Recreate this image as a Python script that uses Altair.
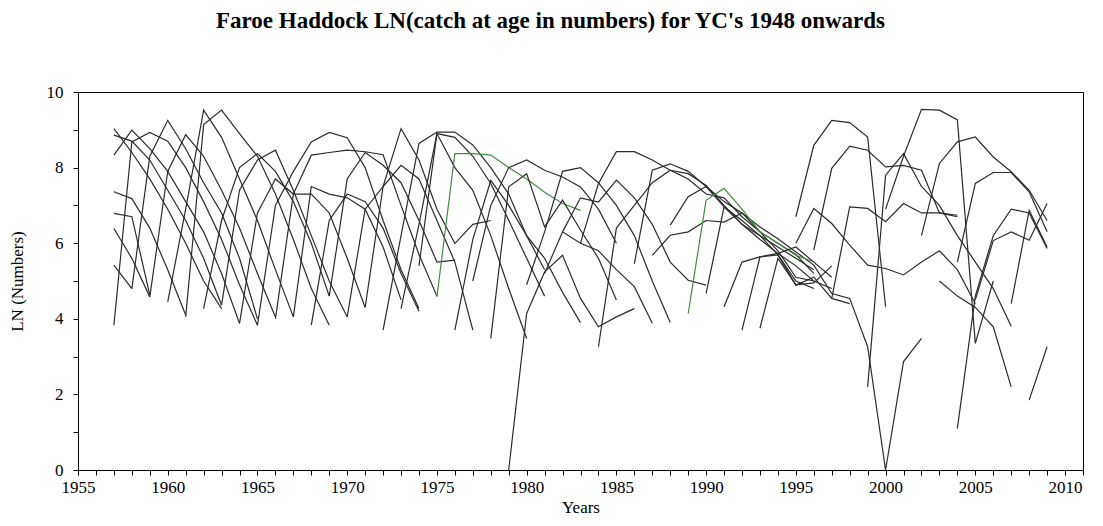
import altair as alt
import pandas as pd

# Each series: first year and LN(catch) values for consecutive years
start_years = [
    1957, 1957, 1957, 1957, 1957, 1957, 1957, 1957,
    1958, 1959, 1960, 1961, 1962, 1963, 1964, 1965, 1966, 1967, 1968, 1969,
    1970, 1971, 1972, 1973, 1974, 1975, 1976, 1977, 1978, 1979, 1980, 1981,
    1982, 1983, 1984, 1986, 1987, 1988, 1989, 1990, 1991, 1992, 1993,
    1995, 1996, 1995, 1997, 1999, 2000, 2002, 2004, 2005, 2003, 2008, 2004, 2007,
]
series_values = [
    [5.42, 4.80],
    [6.39, 5.6, 4.58],
    [6.79, 6.70, 4.63],
    [7.36, 7.18, 6.4, 5.3, 4.1],
    [9.03, 8.4, 7.7, 6.9, 6.0, 5.0, 4.27],
    [8.86, 8.7, 8.2, 7.4, 6.6, 5.6, 4.36],
    [8.33, 8.99, 8.5, 7.9, 7.1, 6.3, 5.2, 3.88],
    [3.83, 8.68, 8.93, 8.7, 8.0, 7.1, 6.1, 4.9, 3.83],
    [4.8, 8.3, 9.25, 8.5, 7.6, 6.8, 5.6, 4.0],
    [4.58, 7.9, 8.87, 8.3, 7.4, 6.4, 5.2, 4.05],
    [4.45, 6.9, 9.52, 8.8, 7.7, 6.6, 5.3, 4.05],
    [4.05, 9.14, 9.52, 8.9, 8.3, 7.3, 6.1, 4.8, 3.83],
    [4.27, 6.6, 8.0, 8.37, 7.9, 7.1, 6.0, 4.6],
    [4.36, 7.4, 8.2, 8.46, 7.4, 6.2, 5.0, 4.05],
    [3.88, 6.8, 7.7, 7.3, 7.3, 6.8, 5.6, 4.3],
    [3.83, 7.0, 7.9, 8.68, 8.93, 8.79, 8.0, 6.6, 5.3, 4.27],
    [4.0, 7.3, 8.33, 8.4, 8.46, 8.42, 8.34, 7.0, 5.7, 4.6],
    [4.05, 7.5, 7.3, 7.2, 6.9, 5.9, 4.5],
    [3.83, 6.6, 7.3, 7.1, 6.4, 5.2, 4.2],
    [4.6, 7.7, 8.4, 8.06, 7.6, 6.6, 5.5, 5.55],
    [4.05, 6.9, 7.5, 9.03, 8.2, 6.9, 5.99, 6.5, 6.6],
    [4.3, 7.5, 8.06, 7.7, 6.6, 5.5, 3.7],
    [3.7, 6.2, 8.64, 8.94, 8.94, 8.6, 8.0, 7.3, 6.2, 5.3],
    [4.27, 6.5, 8.9, 8.8, 8.3, 7.58, 6.61, 5.6, 4.6],
    [5.4, 8.9, 8.0, 7.4, 6.2, 4.8, 3.48],
    [4.58, 8.37, 8.37, 8.33, 8.0, 7.7, 7.35, 7.05, 6.87],
    [3.7, 6.1, 7.66, 7.0, 6.2, 5.6, 4.7, 3.9],
    [5.0, 7.0, 8.0, 8.2, 7.93, 7.75, 7.49, 6.9, 6.0],
    [3.48, 7.49, 7.84, 6.43, 7.14, 6.35, 5.6, 4.5],
    [0.0, 4.14, 5.24, 5.68, 4.54, 3.79, 4.05, 4.27],
    [4.9, 6.3, 7.9, 8.0, 7.6, 7.0, 6.2, 5.0, 3.9],
    [5.2, 6.3, 6.0, 5.8, 5.3, 4.85, 3.88],
    [6.3, 7.2, 7.09, 7.67, 7.2, 6.5, 5.5, 5.02, 4.89],
    [6.0, 7.58, 8.42, 8.42, 8.2, 7.93, 7.84, 7.53, 7.0, 6.5, 6.2, 5.9, 5.6, 5.3],
    [3.26, 6.4, 7.0, 7.6, 7.93, 7.7, 7.3, 7.2, 6.7, 6.3, 6.0, 5.7, 5.2],
    [5.46, 7.93, 8.1, 7.9, 7.5, 7.1, 6.8, 6.3, 5.8, 5.1, 5.0],
    [5.68, 6.21, 6.3, 6.6, 6.56, 6.8, 6.43, 6.12, 5.77, 5.42, 4.67, 4.54, 3.26, 0.0, 2.87, 3.48],
    [6.48, 7.23, 7.5, 6.96, 6.5, 6.1, 5.73, 5.4, 5.0, 4.8],
    [4.14, 7.14, 7.45, 6.9, 6.3, 6.0, 5.68, 5.51],
    [4.67, 6.96, 6.6, 6.2, 5.7, 5.0, 4.8],
    [4.32, 5.5, 5.64, 5.73, 5.9, 5.5, 5.1],
    [3.7, 5.64, 5.69, 4.89, 5.1, 4.54, 4.4],
    [3.75, 5.6, 4.9, 4.95, 5.4],
    [6.70, 8.59, 9.25, 9.19, 8.81, 4.32],
    [5.82, 7.98, 8.57, 8.46, 8.02, 8.06, 7.93, 6.8, 6.74],
    [6.0, 6.92, 6.52, 5.95, 5.42, 5.33, 5.16, 5.5, 5.8, 5.3, 4.4],
    [4.54, 6.96, 6.92, 6.57, 7.05, 6.8, 6.8, 6.7],
    [2.2, 7.8, 8.37, 7.5, 7.0, 6.2, 5.5, 4.8, 3.8],
    [6.9, 8.3, 9.54, 9.52, 9.26, 3.35, 5.0],
    [6.2, 8.11, 8.68, 8.81, 8.28, 7.89, 7.4, 6.6],
    [5.5, 7.58, 7.87, 7.87, 7.36, 6.3],
    [4.5, 6.07, 6.3, 6.08, 7.05],
    [5.0, 4.6, 4.3, 3.79, 2.2],
    [1.85, 3.26],
    [1.1, 4.6, 6.2, 6.9, 6.8, 5.86],
    [4.4, 6.87, 5.9],
]
green_series = [25, 38]

rows = []
for i, (y0, vals) in enumerate(zip(start_years, series_values)):
    grp = "green" if i in green_series else "black"
    for k, v in enumerate(vals):
        rows.append({"series": i, "year": y0 + k, "value": v, "grp": grp})
df = pd.DataFrame(rows)

serif = "Liberation Serif"

x_ticks = list(range(1955, 2012))
y_ticks = list(range(0, 11))

axis_style = dict(
    domainColor="black", tickColor="black", labelColor="black", titleColor="black",
    labelFont=serif, titleFont=serif, labelFontSize=17, titleFontSize=17,
    titleFontWeight="normal", domainWidth=1, grid=False, tickSize=5,
    labelOverlap=False, labelFlush=False,
)

chart = alt.Chart(df).mark_line(strokeWidth=1.2).encode(
    x=alt.X("year:Q",
            scale=alt.Scale(domain=[1955, 2011], nice=False, zero=False),
            axis=alt.Axis(values=x_ticks,
                          labelExpr="datum.value % 5 == 0 ? datum.value : ''",
                          title="Years", labelPadding=4, titlePadding=4,
                          **axis_style)),
    y=alt.Y("value:Q",
            scale=alt.Scale(domain=[0, 10], nice=False, zero=True),
            axis=alt.Axis(values=y_ticks,
                          labelExpr="datum.value % 2 == 0 ? datum.value : ''",
                          title="LN (Numbers)", labelPadding=10, titlePadding=20,
                          **axis_style)),
    detail="series:N",
    order="year:Q",
    color=alt.Color("grp:N",
                    scale=alt.Scale(domain=["black", "green"], range=["#2b2b2b", "#3f8f3a"]),
                    legend=None),
).properties(
    width=1005,
    height=378,
    background="white",
    title=alt.TitleParams("Faroe Haddock LN(catch at age in numbers) for YC's 1948 onwards",
                          font=serif, fontSize=23, fontWeight="bold", color="black",
                          offset=50, dx=-30, anchor="middle"),
    autosize=alt.AutoSizeParams(type="none"),
    padding={"left": 70, "top": 84, "right": 12, "bottom": 48},
).configure_view(
    stroke="black", strokeWidth=1
)

chart.save("out.html", embed_options={"renderer": "svg", "actions": False})
